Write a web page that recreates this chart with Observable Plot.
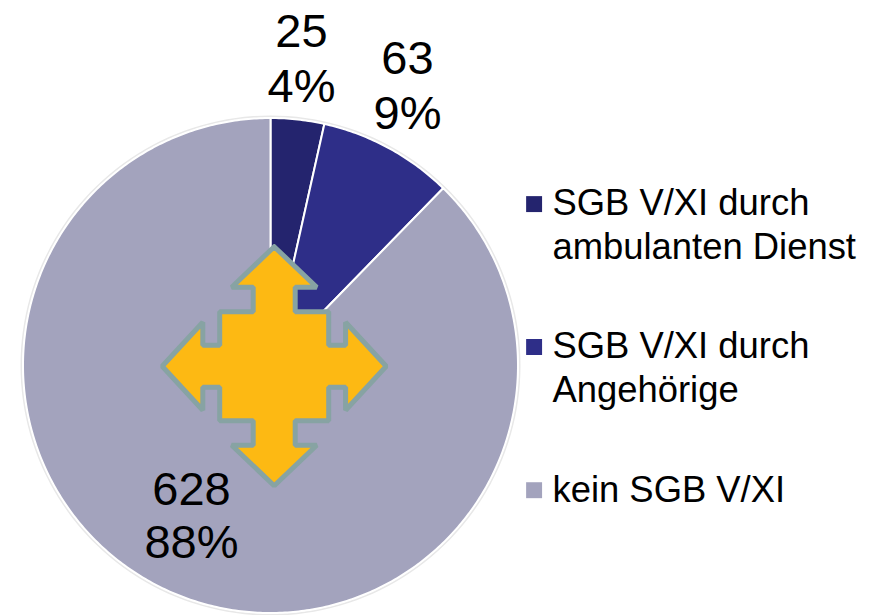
<!DOCTYPE html>
<html>
<head>
<meta charset="utf-8">
<script src="https://cdn.jsdelivr.net/npm/d3@7"></script>
<script src="https://cdn.jsdelivr.net/npm/@observablehq/plot@0.6"></script>
<style>html,body{margin:0;padding:0;background:#fff}svg{display:block}</style>
</head>
<body>
<script>
const categories = ["SGB V/XI durch ambulanten Dienst", "SGB V/XI durch Angehörige", "kein SGB V/XI"];
const counts = [25, 63, 628];
const shares = ["4%", "9%", "88%"];
const colors = ["#24246e", "#2e2e88", "#a3a3bd"];

const legendLines = [["SGB V/XI durch", "ambulanten Dienst"], ["SGB V/XI durch", "Angehörige"], ["kein SGB V/XI"]];

// Layout, in page pixels (the x and y scales are identity scales)
const cx = 270, cy = 365, r = 247.5;
const labelAt = [[301, 31, 86], [407, 58, 113], [191, 489, 542]];
const legendTextY = [203, 346, 490];
const legendSwatchY = [203.6, 346.5, 489.7];
const arrowC = [273.7, 365.7];
const arrowShape = [[0,-119.5],[42.5,-79],[21,-79],[21,-54.5],[54.5,-54.5],[54.5,-21],[71.4,-21],[71.4,-44],[112,0],
                    [71.4,44],[71.4,21],[54.5,21],[54.5,54.5],[21,54.5],[21,79],[42.5,79],[0,119.5],[-42.5,79],[-21,79],
                    [-21,54.5],[-54.5,54.5],[-54.5,21],[-71.4,21],[-71.4,44],[-112,0],[-71.4,-44],[-71.4,-21],[-54.5,-21],
                    [-54.5,-54.5],[-21,-54.5],[-21,-79],[-42.5,-79],[0,-119.5]];

// Slices derived from the counts
const total = d3.sum(counts);
let running = 0;
const slicePts = [];
categories.forEach((c, i) => {
  const a0 = running / total * 2 * Math.PI;
  running += counts[i];
  const a1 = running / total * 2 * Math.PI;
  const n = Math.max(2, Math.ceil((a1 - a0) * 90));
  slicePts.push({c, x: cx, y: cy});
  d3.range(n + 1).forEach(k => {
    const a = a0 + (a1 - a0) * k / n;
    slicePts.push({c, x: cx + r * Math.sin(a), y: cy - r * Math.cos(a)});
  });
  slicePts.push({c, x: cx, y: cy});
});

const bigText = [];
categories.forEach((c, i) => {
  bigText.push({t: String(counts[i]), x: labelAt[i][0], y: labelAt[i][1]});
  bigText.push({t: shares[i], x: labelAt[i][0], y: labelAt[i][2]});
});
const legendText = [];
legendLines.forEach((ls, i) => ls.forEach((t, k) => legendText.push({t, x: 552, y: legendTextY[i] + k * 44})));
const swatches = categories.map((c, i) => ({c, x: 533.6, y: legendSwatchY[i]}));

const plot = Plot.plot({
  width: 875, height: 615,
  margin: 0,
  x: {domain: [0, 875], range: [0, 875], axis: null},
  y: {domain: [0, 615], range: [0, 615], axis: null},
  color: {domain: categories, range: colors},
  style: {background: "#fff", fontFamily: "'Liberation Sans', Arial, sans-serif"},
  marks: [
    Plot.line(d3.range(181).map(k => ({x: cx + (r + 1.5) * Math.sin(k / 90 * Math.PI), y: cy - (r + 1.5) * Math.cos(k / 90 * Math.PI)})),
      {x: "x", y: "y", stroke: "#e8e8e8", strokeWidth: 2}),
    Plot.line(slicePts, {x: "x", y: "y", z: "c", fill: "c", stroke: "#fff", strokeWidth: 2, curve: "linear"}),
    Plot.line(arrowShape.map(p => ({x: arrowC[0] + p[0], y: arrowC[1] + p[1]})),
      {x: "x", y: "y", fill: "#fdb913", stroke: "#87a3a3", strokeWidth: 5, strokeLinejoin: "miter"}),
    Plot.text(bigText, {x: "x", y: "y", text: "t", fontSize: 47, fill: "#000", textAnchor: "middle", lineAnchor: "middle"}),
    Plot.dot(swatches, {x: "x", y: "y", fill: "c", symbol: "square", r: 9}),
    Plot.text(legendText, {x: "x", y: "y", text: "t", fontSize: 36.4, fill: "#000", textAnchor: "start", lineAnchor: "middle"})
  ]
});
document.body.appendChild(plot);
</script>
</body>
</html>
